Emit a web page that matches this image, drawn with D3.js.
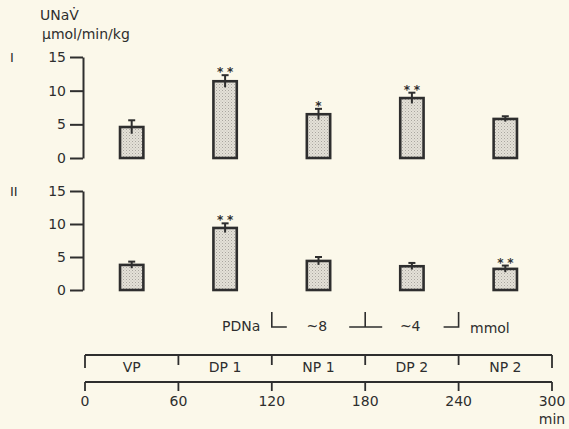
<!DOCTYPE html>
<html>
<head>
<meta charset="utf-8">
<script src="https://cdn.jsdelivr.net/npm/d3@7"></script>
<style>
  html, body { margin: 0; padding: 0; background: #fbf8ea; }
  svg { display: block; }
  text { font-family: "DejaVu Sans", "Liberation Sans", Arial, sans-serif; fill: #2e2e2e; }
</style>
</head>
<body>
<svg id="chart" width="569" height="429"></svg>
<script>
// Experimental periods (minutes) and their labels
const periods = ["VP", "DP 1", "NP 1", "DP 2", "NP 2"];
const periodStart = [0, 60, 120, 180, 240];
const timeTicks = [0, 60, 120, 180, 240, 300];

// Urinary sodium excretion, mean and SE, µmol/min/kg
const meanI = [4.6, 11.4, 6.5, 8.9, 5.8];
const seI   = [1.0, 0.9, 0.8, 0.8, 0.4];
const sigI  = ["", "**", "*", "**", ""];

const meanII = [3.8, 9.4, 4.4, 3.6, 3.2];
const seII   = [0.5, 0.7, 0.6, 0.5, 0.5];
const sigII  = ["", "**", "", "", "**"];

const yTicks = [0, 5, 10, 15];

// Dialysate sodium segments
const pdnaBreaks = [120, 180, 240];
const pdnaLabels = [{t: 150, text: "~8"}, {t: 210, text: "~4"}];

const ink = "#2e2e2e";
const fontFamily = "DejaVu Sans, Liberation Sans, Arial, sans-serif";
const svg = d3.select("#chart");

const defs = svg.append("defs");
const pat = defs.append("pattern")
  .attr("id", "stipple").attr("patternUnits", "userSpaceOnUse")
  .attr("width", 3).attr("height", 3);
pat.append("rect").attr("width", 3).attr("height", 3).attr("fill", "#e4e1d8");
pat.append("rect").attr("x", 0).attr("y", 0).attr("width", 1).attr("height", 1).attr("fill", "#a9a69f");
pat.append("rect").attr("x", 1.5).attr("y", 1.5).attr("width", 1).attr("height", 1).attr("fill", "#bdbab2");

const x = d3.scaleLinear().domain([0, 300]).range([85, 552]);

// Header labels
svg.append("text").attr("x", 40).attr("y", 20).attr("font-size", 14).text("UNaV\u0307");
svg.append("text").attr("x", 42).attr("y", 39).attr("font-size", 14).text("\u00b5mol/min/kg");

function panel(label, mean, se, sig, yTop, yBottom) {
  const y = d3.scaleLinear().domain([0, 15]).range([yBottom, yTop]);
  const g = svg.append("g");

  svg.append("text").attr("x", 10).attr("y", y(15) + 5).attr("font-size", 13).text(label);

  const axis = d3.axisLeft(y).tickValues(yTicks).tickSize(13).tickPadding(4).tickSizeOuter(0);
  const ag = g.append("g").attr("transform", "translate(83,0)").call(axis);
  ag.select(".domain").attr("stroke", ink).attr("stroke-width", 2);
  ag.selectAll(".tick line").attr("stroke", ink).attr("stroke-width", 2);
  ag.selectAll(".tick text").attr("font-size", 14).attr("fill", ink)
    .attr("font-family", fontFamily);

  const data = periods.map((p, i) => ({p, t: periodStart[i] + 30, m: mean[i], e: se[i], s: sig[i]}));

  g.selectAll("rect.bar").data(data).enter().append("rect")
    .attr("class", "bar")
    .attr("x", d => x(d.t - 7.5)).attr("width", d => x(d.t + 7.5) - x(d.t - 7.5))
    .attr("y", d => y(d.m)).attr("height", d => y(0) - y(d.m))
    .attr("fill", "url(#stipple)").attr("stroke", ink).attr("stroke-width", 2.6);

  g.selectAll("line.err").data(data).enter().append("line")
    .attr("x1", d => x(d.t)).attr("x2", d => x(d.t))
    .attr("y1", d => y(d.m - d.e)).attr("y2", d => y(d.m + d.e))
    .attr("stroke", ink).attr("stroke-width", 2);
  g.selectAll("line.cap").data(data).enter().append("line")
    .attr("x1", d => x(d.t) - 3.5).attr("x2", d => x(d.t) + 3.5)
    .attr("y1", d => y(d.m + d.e)).attr("y2", d => y(d.m + d.e))
    .attr("stroke", ink).attr("stroke-width", 2);

  // Significance marks
  data.forEach(d => {
    const n = d.s.length;
    for (let k = 0; k < n; k++) {
      const cx = x(d.t) + (n === 2 ? (k === 0 ? -5 : 5) : 0);
      g.append("text").attr("x", cx).attr("y", y(d.m + d.e) + 1)
        .attr("text-anchor", "middle").attr("font-size", 12).attr("font-weight", "bold")
        .text("*");
    }
  });
}

panel("I", meanI, seI, sigI, 57, 158);
panel("II", meanII, seII, sigII, 191, 290);

// Dialysate sodium annotation
const pY0 = 312, pY1 = 327;
svg.append("text").attr("x", 222).attr("y", 331).attr("font-size", 14).text("PDNa");
const pg = svg.append("g").attr("stroke", ink).attr("stroke-width", 1.6).attr("fill", "none");
// left bracket
pg.append("path").attr("d", `M${x(pdnaBreaks[0])},${pY0}V${pY1}H${x(pdnaBreaks[0]) + 15}`);
// middle junction
pg.append("path").attr("d", `M${x(pdnaBreaks[1]) - 16},${pY1}H${x(pdnaBreaks[1]) + 17}M${x(pdnaBreaks[1])},${pY0}V${pY1}`);
// right bracket
pg.append("path").attr("d", `M${x(pdnaBreaks[2]) - 15},${pY1}H${x(pdnaBreaks[2])}V${pY0}`);
pdnaLabels.forEach(l => {
  svg.append("text").attr("x", x(l.t) - 12).attr("y", 331).attr("font-size", 14).text(l.text);
});
svg.append("text").attr("x", 470).attr("y", 333).attr("font-size", 14).text("mmol");

// Period bracket row
const bg = svg.append("g").attr("stroke", ink).attr("stroke-width", 1.8).attr("fill", "none");
bg.append("line").attr("x1", x(0)).attr("x2", x(300)).attr("y1", 355).attr("y2", 355);
timeTicks.forEach(t => {
  const end = (t === 0 || t === 300);
  bg.append("line").attr("x1", x(t)).attr("x2", x(t)).attr("y1", 355).attr("y2", end ? 368 : 365);
});
periods.forEach((p, i) => {
  svg.append("text").attr("x", x(periodStart[i] + 30)).attr("y", 372)
    .attr("text-anchor", "middle").attr("font-size", 14).text(p);
});

// Time axis
const tg = svg.append("g").attr("stroke", ink).attr("stroke-width", 1.8).attr("fill", "none");
tg.append("line").attr("x1", x(0)).attr("x2", x(300)).attr("y1", 382).attr("y2", 382);
timeTicks.forEach(t => {
  tg.append("line").attr("x1", x(t)).attr("x2", x(t)).attr("y1", 382).attr("y2", 391);
});
timeTicks.forEach(t => {
  svg.append("text").attr("x", x(t)).attr("y", 406)
    .attr("text-anchor", "middle").attr("font-size", 14).text(t);
});
svg.append("text").attr("x", x(300)).attr("y", 424).attr("text-anchor", "middle")
  .attr("font-size", 14).text("min");
</script>
</body>
</html>
